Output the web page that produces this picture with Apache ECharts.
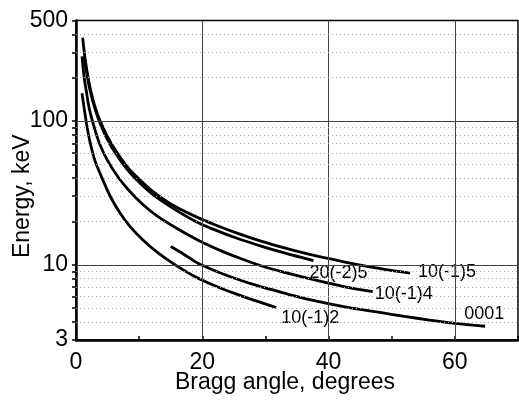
<!DOCTYPE html>
<html><head><meta charset="utf-8">
<script src="https://cdn.jsdelivr.net/npm/echarts@6/dist/echarts.min.js"></script>
<style>html,body{margin:0;padding:0;background:#fff}#c{width:519px;height:403px}</style>
</head><body><div id="c"></div>
<script>
// ---- data ----
const seriesNames = ['10(-1)5', '20(-2)5', '10(-1)4', '0001', '10(-1)2'];
const s10m15 = [[1.05,380],[1.4,280],[1.8,215],[2.3,165],[3.1,122],[4,96],[5.4,72],[7,56],[8.4,46.5],[10,39.5],[12.1,32.5],[15,26.5],[18.8,21.8],[22,19],[25.5,16.6],[29.3,14.6],[33,13.1],[37,11.8],[42.4,10.5],[47,9.6],[52.9,8.75]];
const s20m25 = [[1.3,282],[1.7,215],[2.2,165],[3,122],[4,92],[5.4,68.5],[7,53.5],[8.4,44.5],[10,37.5],[12.1,31],[15,25.3],[18.8,20.2],[22,17.5],[25.5,15.3],[29.3,13.5],[33,12.1],[37.6,10.7]];
const s10m14 = [[0.95,282],[1.3,200],[1.6,165],[2.1,122],[3,87],[3.7,70],[5,53],[6.8,40],[8.5,32.5],[10.5,26.5],[13,21.6],[15.8,18.1],[19.5,14.7],[23,12.5],[26,11.1],[29.3,9.85],[33,8.85],[37,8],[42.4,7.05],[47,6.5]];
const s0001 = [[15,13.4],[17,11.9],[19.4,10.2],[22,9.1],[25,8.1],[29,7.1],[33,6.35],[37,5.72],[42.4,5.12],[47.9,4.68],[52,4.38],[56,4.13],[60,3.92],[64.8,3.74]];
const s10m12 = [[0.95,156],[1.3,122],[1.7,94],[2.2,72],[3,53],[4.3,38.5],[5.5,29.5],[7,22.8],[8.5,18.6],[10.6,14.9],[13,12.1],[15.4,10.2],[18.8,8.3],[22,7.15],[25,6.35],[28,5.7],[31.7,5.05]];
const curves = [s10m15, s20m25, s10m14, s0001, s10m12];

const xRange = [0, 70];
const yRange = [3, 500];
const xLabelValues = [0, 20, 40, 60];
const xTickValues = [0, 10, 20, 30, 40, 50, 60, 70];
const yTickValues = [3, 4, 5, 6, 7, 8, 9, 10, 20, 30, 40, 50, 60, 70, 80, 90, 100, 200, 300, 400, 500];
const majorGridX = [20, 40, 60];
const majorGridY = [10, 100];
const minorGridY = [4, 5, 6, 7, 8, 9, 20, 30, 40, 50, 60, 70, 80, 90, 200, 300, 400];

const xTitle = 'Bragg angle, degrees';
const yTitle = 'Energy, keV';

// ---- label placement (style only) ----
const labelPlace = [
  {distance: 8, offset: [0, -1]},
  {distance: 0, offset: [-4, 12]},
  {distance: 2, offset: [0, 2]},
  {distance: 0, offset: [-21, -12]},
  {distance: 5, offset: [0, 11]}
];

const FONT = 'Liberation Sans, Arial, sans-serif';
const chart = echarts.init(document.getElementById('c'), null, {renderer: 'canvas'});

const gridLines = [];
majorGridX.forEach(v => gridLines.push({xAxis: v, lineStyle: {color: '#444', width: 1, type: 'solid'}}));
majorGridY.forEach(v => gridLines.push({yAxis: v, lineStyle: {color: '#444', width: 1, type: 'solid'}}));
minorGridY.forEach(v => gridLines.push({yAxis: v, lineStyle: {color: '#aaa', width: 1, type: [1, 3]}}));

const series = [{
  type: 'line', data: [], silent: true, z: 1,
  markLine: {silent: true, symbol: 'none', label: {show: false}, animation: false, data: gridLines}
}];
curves.forEach((d, i) => {
  series.push({
    name: seriesNames[i], type: 'line', data: d, showSymbol: false, smooth: 0.3, z: 3,
    lineStyle: {color: '#000', width: 2.8},
    endLabel: {show: true, formatter: seriesNames[i], color: '#000', fontFamily: FONT, fontSize: 18,
      distance: labelPlace[i].distance, offset: labelPlace[i].offset}
  });
});

chart.setOption({
  animation: false,
  backgroundColor: '#fff',
  grid: {left: 76, right: 1, top: 20.5, bottom: 63, containLabel: false, outerBoundsMode: 'none',
    show: true, borderColor: '#000', borderWidth: 1.5, backgroundColor: 'transparent'},
  xAxis: {
    type: 'value', min: xRange[0], max: xRange[1], interval: 10,
    name: xTitle, nameLocation: 'middle', nameGap: 31, nameMoveOverlap: false,
    nameTextStyle: {fontFamily: FONT, fontSize: 23, color: '#000', padding: [0, 24, 0, 0]},
    axisLine: {show: true, lineStyle: {color: '#000', width: 2.5}},
    axisTick: {show: true, inside: true, length: 4, lineStyle: {color: '#000', width: 1.5}, customValues: xTickValues},
    axisLabel: {fontFamily: FONT, fontSize: 23, color: '#000', margin: 11, customValues: xLabelValues},
    splitLine: {show: false}
  },
  yAxis: {
    type: 'log', logBase: 10, min: yRange[0], max: yRange[1],
    name: yTitle, nameLocation: 'middle', nameGap: 42, nameMoveOverlap: false,
    nameTextStyle: {fontFamily: FONT, fontSize: 23, color: '#000', padding: [0, 32, 0, 0]},
    axisLine: {show: true, lineStyle: {color: '#000', width: 2.5}},
    axisTick: {show: true, length: 4, lineStyle: {color: '#000', width: 1.5}, customValues: yTickValues},
    axisLabel: {fontFamily: FONT, fontSize: 23, color: '#000', margin: 8},
    splitLine: {show: false},
    minorSplitLine: {show: false}
  },
  series: series
});
</script></body></html>
